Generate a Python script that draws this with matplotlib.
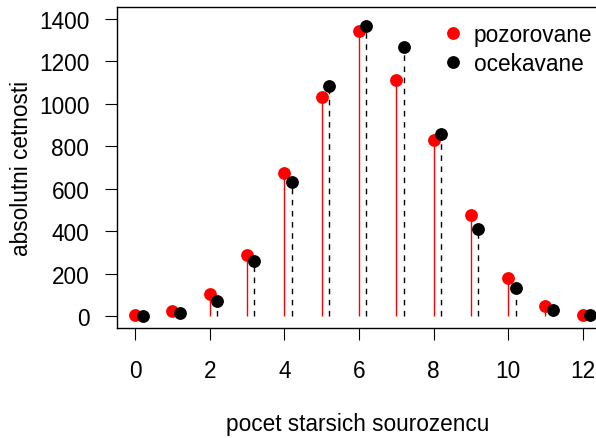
import matplotlib
matplotlib.use("Agg")
import matplotlib.pyplot as plt
import numpy as np

plt.rcParams['font.family'] = ['Liberation Sans', 'DejaVu Sans']

# number of older siblings, observed vs expected counts
pocet = np.arange(0, 13)
pozorovane = [3, 25, 106, 287, 672, 1033, 1344, 1112, 829, 478, 180, 48, 7]
ocekavane = [1, 13, 72, 258, 631, 1085, 1368, 1267, 856, 412, 133, 27, 4]
x_ticks = [0, 2, 4, 6, 8, 10, 12]
y_ticks = [0, 200, 400, 600, 800, 1000, 1200, 1400]

fig = plt.figure(figsize=(5.96, 4.39), dpi=100)
W, H = 596, 439
left, right, top, bottom = 116.5, 620, 8, 329
ax = fig.add_axes([left / W, 1 - bottom / H, (right - left) / W, (bottom - top) / H])

shift = 0.2
ax.vlines(pocet, 0, pozorovane, colors='red', linewidth=1.0)
ax.vlines(pocet + shift, 0, ocekavane, colors='black', linewidth=1.0,
          linestyles=(0, (4, 4)))
p1, = ax.plot(pocet, pozorovane, 'o', color='red', markersize=8.2, zorder=3)
p2, = ax.plot(pocet + shift, ocekavane, 'o', color='black', markersize=8.2, zorder=4)

fs = 16.3
ax.set_xlim(-0.5, 13.0)
ax.set_ylim(-56, 1456)
ax.set_xticks(x_ticks)
ax.set_yticks(y_ticks)
ax.tick_params(direction='out', length=8.6, width=0.8, labelsize=fs, pad=11)
ax.tick_params(axis='x', pad=14)
for s in ax.spines.values():
    s.set_linewidth(1.0)
ax.spines['right'].set_visible(False)

ax.set_ylabel('absolutni cetnosti', fontsize=fs)
ax.yaxis.set_label_coords((22 - left) / (right - left), 0.5)
ax.set_xlabel('pocet starsich sourozencu', fontsize=fs)
ax.xaxis.set_label_coords((358 - left) / (right - left), -(425 - bottom) / (bottom - top))
ax.xaxis.label.set_va('center')
ax.yaxis.label.set_va('center')

ax.legend([p1, p2], ['pozorovane', 'ocekavane'], loc='upper left',
          bbox_to_anchor=(441.5 / W, 1 - 24 / H), bbox_transform=fig.transFigure,
          frameon=False, fontsize=fs, handlelength=1.0, handletextpad=0.43,
          labelspacing=0.28, borderpad=0, borderaxespad=0, numpoints=1)

fig.savefig('out.png', dpi=100)
